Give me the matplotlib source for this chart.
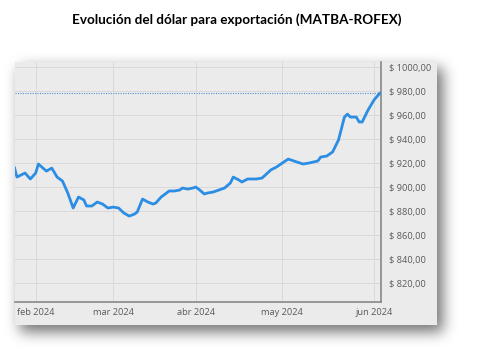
import numpy as np
import matplotlib
matplotlib.use("Agg")
import matplotlib.pyplot as plt
import matplotlib.dates as mdates
from matplotlib.patches import Rectangle
import datetime as dt

# --- data -------------------------------------------------------------
fechas = [
    "2024-01-24", "2024-01-25", "2024-01-28", "2024-01-30", "2024-02-01",
    "2024-02-02", "2024-02-05", "2024-02-07", "2024-02-09", "2024-02-11",
    "2024-02-13", "2024-02-15", "2024-02-17", "2024-02-19", "2024-02-20",
    "2024-02-22", "2024-02-24", "2024-02-26", "2024-02-28", "2024-03-01",
    "2024-03-03", "2024-03-05", "2024-03-07", "2024-03-09", "2024-03-10",
    "2024-03-12", "2024-03-14", "2024-03-16", "2024-03-17", "2024-03-19",
    "2024-03-20", "2024-03-22", "2024-03-24", "2024-03-26", "2024-03-27",
    "2024-03-29", "2024-03-31", "2024-04-01", "2024-04-02", "2024-04-04",
    "2024-04-05", "2024-04-07", "2024-04-09", "2024-04-11", "2024-04-13",
    "2024-04-14", "2024-04-16", "2024-04-17", "2024-04-19", "2024-04-21",
    "2024-04-22", "2024-04-24", "2024-04-27", "2024-04-29", "2024-05-01",
    "2024-05-03", "2024-05-04", "2024-05-06", "2024-05-08", "2024-05-10",
    "2024-05-13", "2024-05-14", "2024-05-16", "2024-05-18", "2024-05-20",
    "2024-05-22", "2024-05-23", "2024-05-24", "2024-05-26", "2024-05-27",
    "2024-05-28", "2024-05-30", "2024-06-01", "2024-06-03",
]
dolar = [
    916.7, 908.3, 911.7, 906.7, 911.7,
    919.2, 913.3, 915.8, 908.3, 905.0,
    895.0, 882.5, 891.7, 889.2, 884.2,
    884.2, 887.5, 885.8, 882.5, 883.3,
    882.5, 878.3, 875.8, 877.5, 879.2,
    890.0, 887.5, 885.8, 886.7, 891.7,
    893.3, 896.7, 896.7, 897.5, 899.2,
    898.3, 899.2, 900.0, 898.3, 894.2,
    895.0, 895.8, 897.5, 899.2, 903.3,
    908.3, 905.8, 904.2, 906.7, 906.7,
    906.7, 907.5, 914.2, 916.7, 920.0,
    923.3, 922.5, 920.8, 919.2, 920.0,
    921.7, 925.0, 925.8, 929.2, 939.2,
    958.3, 960.8, 958.3, 958.3, 954.2,
    954.2, 964.2, 972.5, 978.3,
]
meses = ["2024-02-01", "2024-03-01", "2024-04-01", "2024-05-01", "2024-06-01"]
etiquetas_meses = ["feb 2024", "mar 2024", "abr 2024", "may 2024", "jun 2024"]
y_ticks = [820, 840, 860, 880, 900, 920, 940, 960, 980, 1000]
y_etiquetas = [f"$ {v},00" for v in y_ticks]
titulo = "Evolución del dólar para exportación (MATBA-ROFEX)"

# --- figure -----------------------------------------------------------
W, H = 487, 348
fig = plt.figure(figsize=(W / 100, H / 100), dpi=100)
fig.patch.set_facecolor("white")

def fx(px):
    return px / W

def fy(py):
    return 1 - py / H

# drop shadow behind the chart panel
px0, px1, py0, py1 = 15, 437, 62, 325
off_x, off_y, sigma = 5, 6, 7.0
yy, xx = np.mgrid[0:H, 0:W]
mask = ((xx >= px0 + off_x) & (xx <= px1 + off_x) &
        (yy >= py0 + off_y) & (yy <= py1 + off_y)).astype(float)
k = np.arange(-int(3 * sigma), int(3 * sigma) + 1)
g = np.exp(-k**2 / (2 * sigma**2)); g /= g.sum()
blur = np.apply_along_axis(lambda r: np.convolve(r, g, mode="same"), 1, mask)
blur = np.apply_along_axis(lambda c: np.convolve(c, g, mode="same"), 0, blur)
rgba = np.zeros((H, W, 4))
rgba[..., 3] = blur * 0.55
bg = fig.add_axes([0, 0, 1, 1], zorder=-10)
bg.imshow(rgba, extent=(0, W, H, 0), interpolation="bilinear")
bg.set_xlim(0, W); bg.set_ylim(H, 0)
bg.axis("off")

# panel
fig.patches.append(Rectangle((fx(px0), fy(py1)), fx(px1 - px0), (py1 - py0) / H,
                             transform=fig.transFigure, facecolor="#ebebeb",
                             edgecolor="none", zorder=-5))

# title
fig.text(fx(236.5), fy(20), titulo, ha="center", va="center",
         fontsize=9.7, fontweight="bold", family="Lato", color="#000000")

# --- axes with month-anchored date scale -----------------------------
ad = mdates.date2num([dt.datetime.fromisoformat(m) for m in meses])
ap = np.array([35.7, 113.3, 195.7, 282.3, 374.0])

def _pw(v, xs, ys):
    v = np.asarray(v, float)
    out = np.interp(v, xs, ys)
    s0 = (ys[1] - ys[0]) / (xs[1] - xs[0])
    s1 = (ys[-1] - ys[-2]) / (xs[-1] - xs[-2])
    out = np.where(v < xs[0], ys[0] + (v - xs[0]) * s0, out)
    out = np.where(v > xs[-1], ys[-1] + (v - xs[-1]) * s1, out)
    return out

fwd = lambda v: _pw(v, ad, ap)
inv = lambda v: _pw(v, ap, ad)

ax = fig.add_axes([fx(15), fy(302), fx(381 - 15), (302 - 62) / H])
ax.set_facecolor("#ebebeb")
ax.set_xscale("function", functions=(fwd, inv))

x = mdates.date2num([dt.datetime.fromisoformat(f) for f in fechas])
ax.plot(x, dolar, color="#2b8de3", lw=2.0, solid_joinstyle="round",
        solid_capstyle="round", zorder=3)
ax.axhline(dolar[-1], color="#4f93d8", lw=0.8, ls=(0, (1, 1.2)), zorder=2)

ax.set_xlim(float(inv(15)), float(inv(381)))
ax.set_ylim(804.2, 1004.2)

ax.set_xticks(ad)
ax.set_xticklabels(etiquetas_meses)
ax.set_yticks(y_ticks)
ax.set_yticklabels(y_etiquetas)
ax.yaxis.tick_right()
ax.tick_params(axis="both", length=0, labelsize=6.7, labelcolor="#5a5a5a")
ax.tick_params(axis="y", pad=5.5)
ax.tick_params(axis="x", pad=4)
for lab in ax.get_xticklabels() + ax.get_yticklabels():
    lab.set_family("Open Sans")

ax.grid(True, color="#d9d9d9", lw=0.7)
ax.set_axisbelow(True)
for side in ("left", "top"):
    ax.spines[side].set_visible(False)
for side in ("right", "bottom"):
    ax.spines[side].set_color("#7f7f7f")
    ax.spines[side].set_linewidth(1.1)

fig.savefig("out.png", dpi=100)
